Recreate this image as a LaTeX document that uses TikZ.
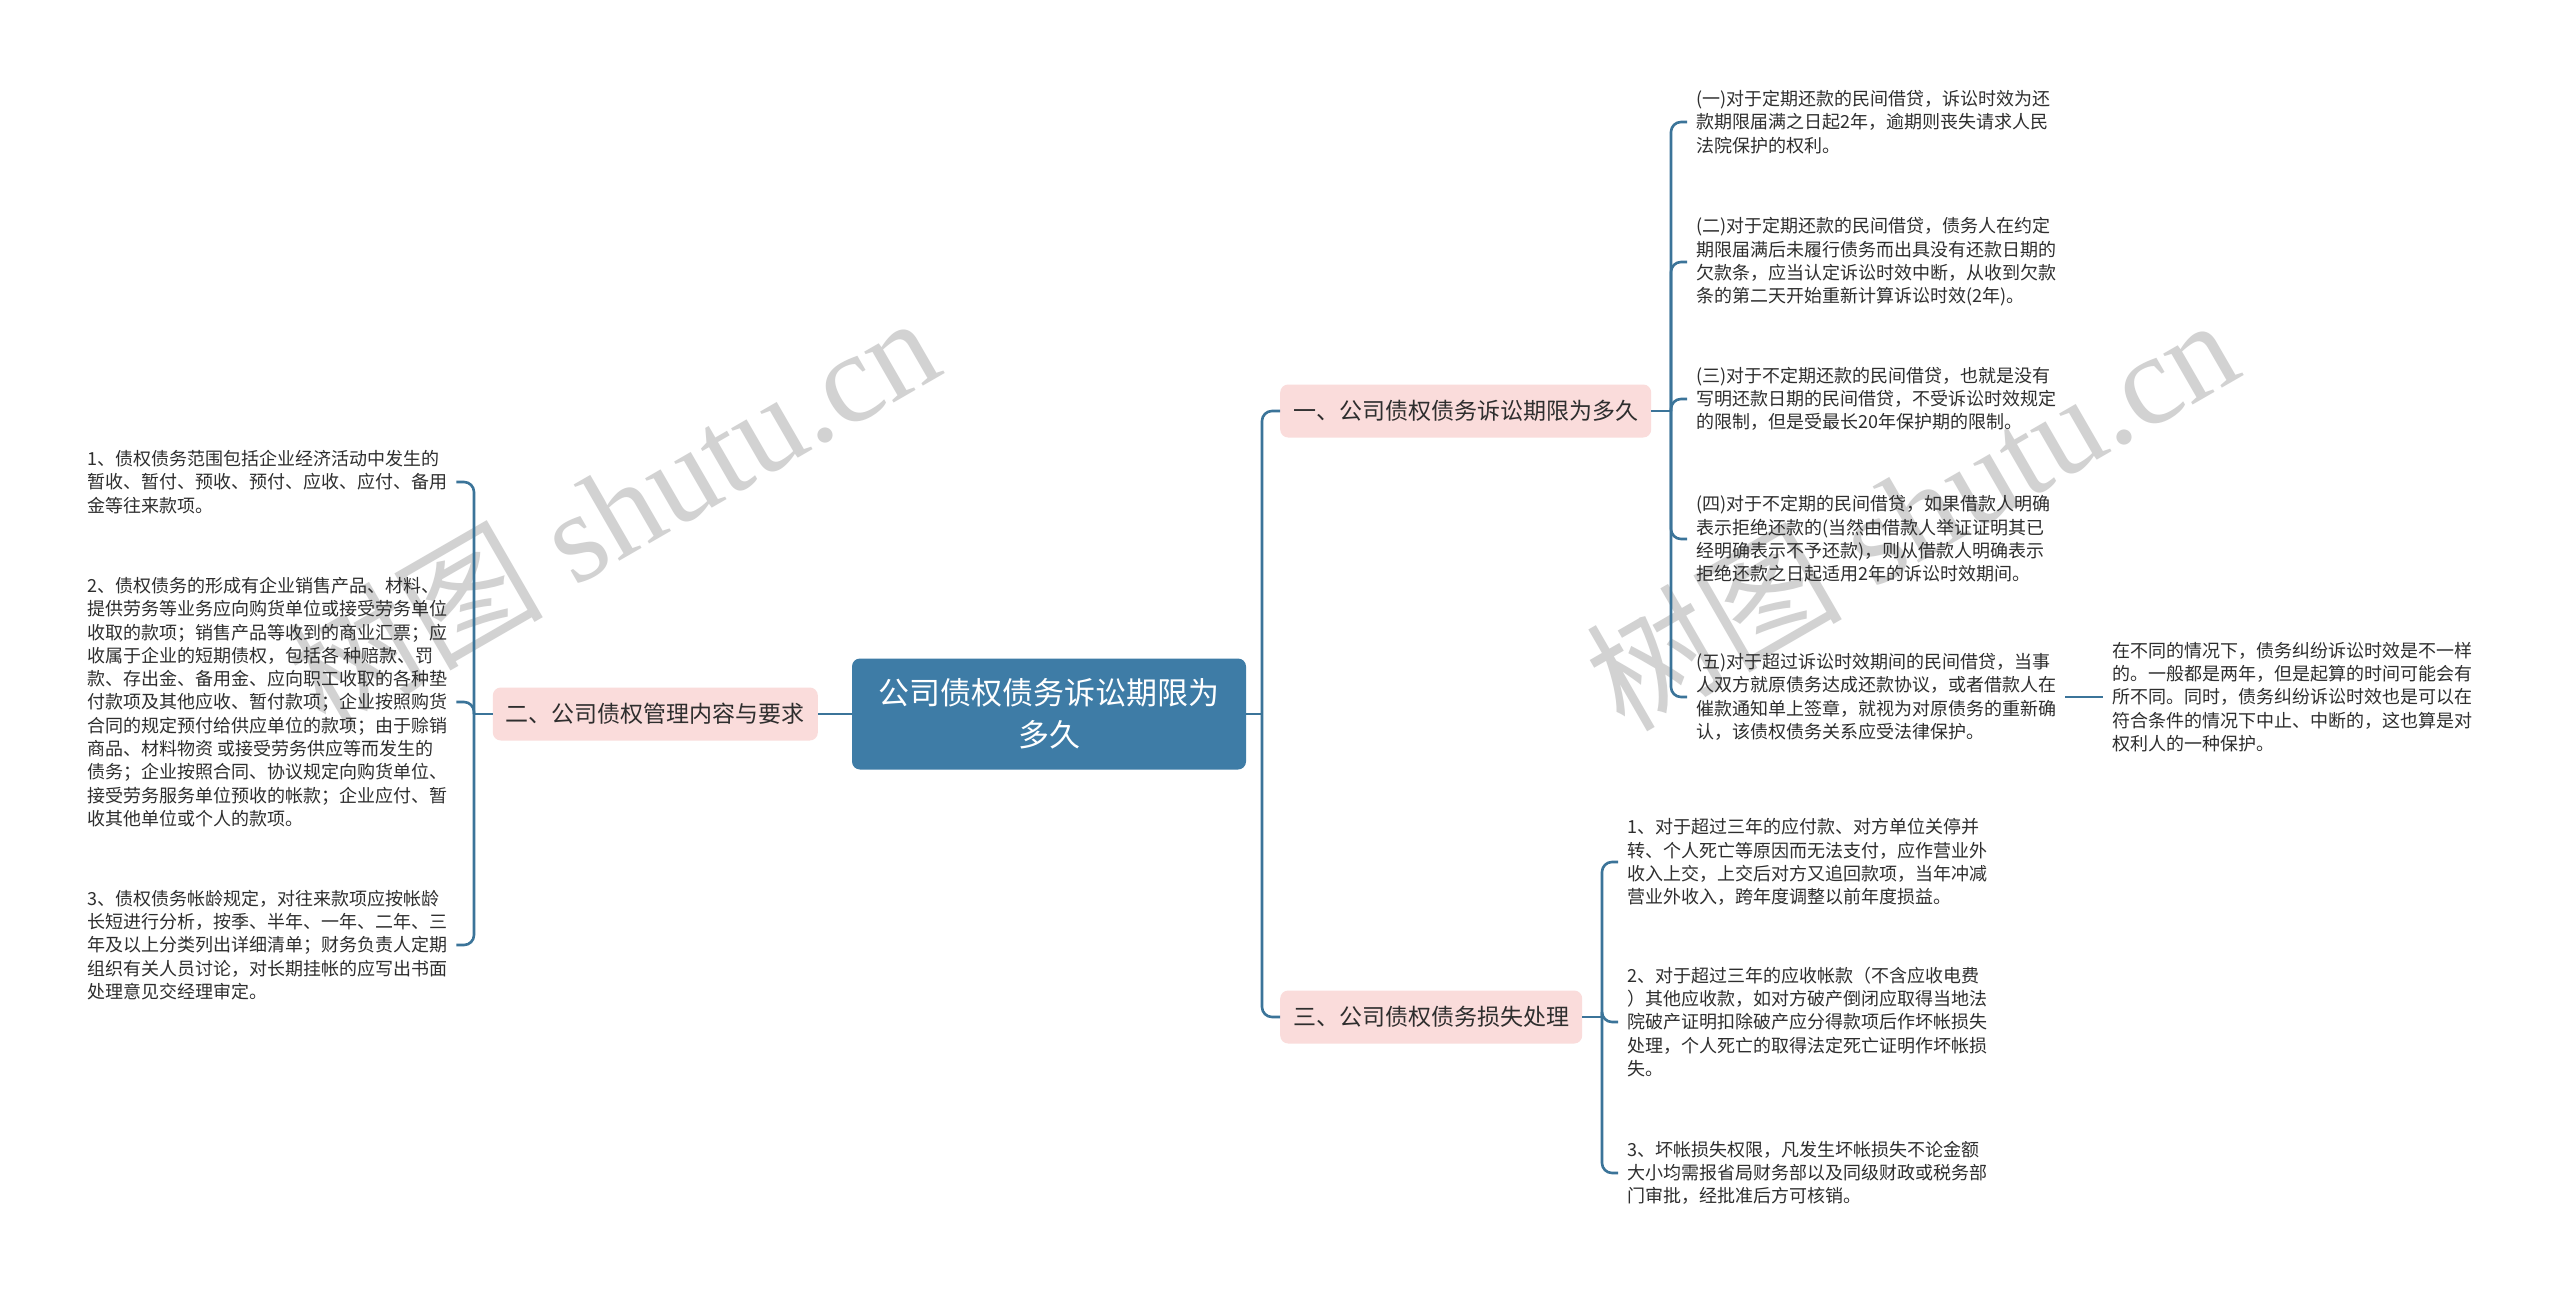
\documentclass[tikz,border=0pt]{standalone}
\usepackage{fontspec}
\newfontfamily\cjk{Noto Sans CJK SC}
\newfontfamily\wmserif{Liberation Serif}
\definecolor{rootblue}{HTML}{3E7CA6}
\definecolor{branchpink}{HTML}{FADCDB}
\definecolor{linkblue}{HTML}{3B7499}
\definecolor{wmgray}{HTML}{D2D2D2}
\definecolor{leaftext}{HTML}{2E2E2E}

\begin{document}
\begin{tikzpicture}[x=1pt,y=-1pt,
  root/.style={fill=rootblue,rounded corners=8,text=white,align=center,minimum width=394,minimum height=111,font={\cjk\fontsize{31}{42}\selectfont}},
  branch/.style={fill=branchpink,rounded corners=8,text=leaftext,minimum height=53,inner xsep=13,font={\cjk\fontsize{23}{28}\selectfont}},
  leaf/.style={align=left,inner sep=9,text=leaftext,font={\cjk\fontsize{18}{23.3}\selectfont}},
  link/.style={draw=linkblue,line width=2.6,rounded corners=10},
  wmark/.style={text=wmgray,rotate=30,font={\wmserif\fontsize{128}{128}\selectfont}}]
  % canvas in pixels of the reference
  \useasboundingbox (0,0) rectangle (2560,1295);
  \fill[white] (0,0) rectangle (2560,1295);

  % watermarks (behind everything)
  \node[wmark] (wmL) at (612,510) {{\cjk 树图} shutu.cn};
  \node[wmark] (wmR) at (1911,512) {{\cjk 树图} shutu.cn};

  % root and main branches
  \node[root] (root) at (1049,714) {公司债权债务诉讼期限为\\多久};
  \node[branch,anchor=west] (b1) at (1280,411) {一、公司债权债务诉讼期限为多久};
  \node[branch,anchor=east] (b2) at (818,714) {二、公司债权管理内容与要求};
  \node[branch,anchor=west] (b3) at (1280,1017) {三、公司债权债务损失处理};

  % junctions
  \coordinate (jr) at (1262,714);
  \coordinate (j1) at (1671,411);
  \coordinate (j2) at (474,714);
  \coordinate (j3) at (1602,1017);

  % branch 1 leaves
  \node[leaf,anchor=west] (l1) at (1687,122) {(一)对于定期还款的民间借贷，诉讼时效为还\\款期限届满之日起2年，逾期则丧失请求人民\\法院保护的权利。};
  \node[leaf,anchor=west] (l2) at (1687,262) {(二)对于定期还款的民间借贷，债务人在约定\\期限届满后未履行债务而出具没有还款日期的\\欠款条，应当认定诉讼时效中断，从收到欠款\\条的第二天开始重新计算诉讼时效(2年)。};
  \node[leaf,anchor=west] (l3) at (1687,399) {(三)对于不定期还款的民间借贷，也就是没有\\写明还款日期的民间借贷，不受诉讼时效规定\\的限制，但是受最长20年保护期的限制。};
  \node[leaf,anchor=west] (l4) at (1687,539) {(四)对于不定期的民间借贷，如果借款人明确\\表示拒绝还款的(当然由借款人举证证明其已\\经明确表示不予还款)，则从借款人明确表示\\拒绝还款之日起适用2年的诉讼时效期间。};
  \node[leaf,anchor=west] (l5) at (1687,697) {(五)对于超过诉讼时效期间的民间借贷，当事\\人双方就原债务达成还款协议，或者借款人在\\催款通知单上签章，就视为对原债务的重新确\\认，该债权债务关系应受法律保护。};
  \node[leaf,anchor=west] (note) at (2103,697) {在不同的情况下，债务纠纷诉讼时效是不一样\\的。一般都是两年，但是起算的时间可能会有\\所不同。同时，债务纠纷诉讼时效也是可以在\\符合条件的情况下中止、中断的，这也算是对\\权利人的一种保护。};

  % branch 2 leaves
  \node[leaf,anchor=west] (ll1) at (78,482) {1、债权债务范围包括企业经济活动中发生的\\暂收、暂付、预收、预付、应收、应付、备用\\金等往来款项。};
  \node[leaf,anchor=west] (ll2) at (78,702) {2、债权债务的形成有企业销售产品、材料、\\提供劳务等业务应向购货单位或接受劳务单位\\收取的款项；销售产品等收到的商业汇票；应\\收属于企业的短期债权，包括各 种赔款、罚\\款、存出金、备用金、应向职工收取的各种垫\\付款项及其他应收、暂付款项；企业按照购货\\合同的规定预付给供应单位的款项；由于赊销\\商品、材料物资 或接受劳务供应等而发生的\\债务；企业按照合同、协议规定向购货单位、\\接受劳务服务单位预收的帐款；企业应付、暂\\收其他单位或个人的款项。};
  \node[leaf,anchor=west] (ll3) at (78,945) {3、债权债务帐龄规定，对往来款项应按帐龄\\长短进行分析，按季、半年、一年、二年、三\\年及以上分类列出详细清单；财务负责人定期\\组织有关人员讨论，对长期挂帐的应写出书面\\处理意见交经理审定。};

  % branch 3 leaves
  \node[leaf,anchor=west] (m1) at (1618,862) {1、对于超过三年的应付款、对方单位关停并\\转、个人死亡等原因而无法支付，应作营业外\\收入上交，上交后对方又追回款项，当年冲减\\营业外收入，跨年度调整以前年度损益。};
  \node[leaf,anchor=west] (m2) at (1618,1022) {2、对于超过三年的应收帐款（不含应收电费\\）其他应收款，如对方破产倒闭应取得当地法\\院破产证明扣除破产应分得款项后作坏帐损失\\处理，个人死亡的取得法定死亡证明作坏帐损\\失。};
  \node[leaf,anchor=west] (m3) at (1618,1173) {3、坏帐损失权限，凡发生坏帐损失不论金额\\大小均需报省局财务部以及同级财政或税务部\\门审批，经批准后方可核销。};

  % connectors
  \draw[link] (root.east) -- (jr);
  \draw[link] (b1.west) -| (jr) |- (b3.west);
  \draw[link] (root.west) -- (b2.east);
  \draw[link] (b2.west) -- (j2);
  \draw[link] (ll1.east) -| (j2) |- (ll3.east);
  \draw[link] (ll2.east) -| (j2);
  \draw[link] (b1.east) -- (j1);
  \draw[link] (l1.west) -| (j1) |- (l5.west);
  \foreach \lf in {l2,l3,l4}{
    \draw[link] (\lf.west) -| (j1);}
  \draw[link] (l5.east) -- (note.west);
  \draw[link] (b3.east) -- (j3);
  \draw[link] (m1.west) -| (j3) |- (m3.west);
  \draw[link] (m2.west) -| (j3);
\end{tikzpicture}
\end{document}
